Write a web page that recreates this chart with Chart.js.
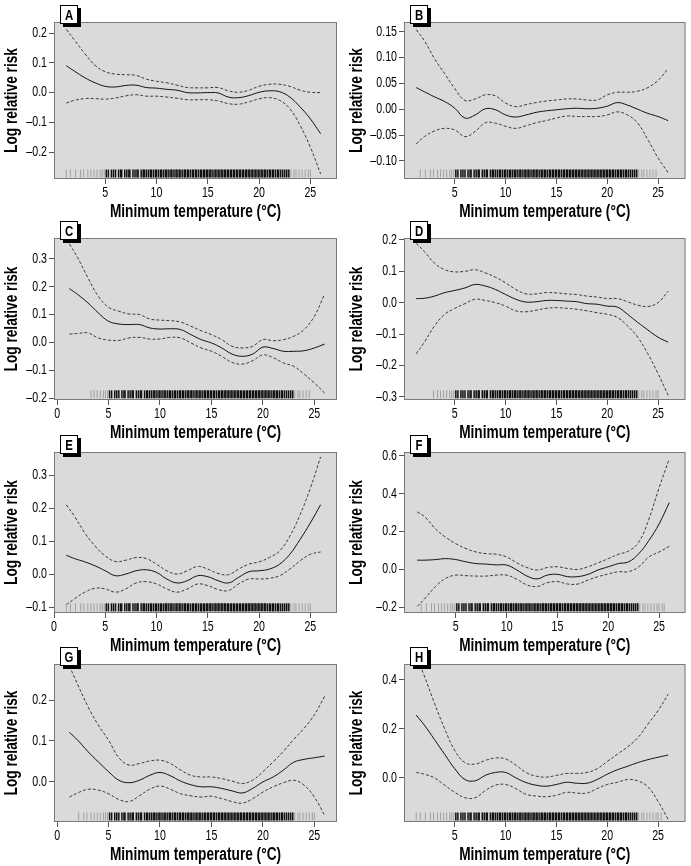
<!DOCTYPE html>
<html>
<head>
<meta charset="utf-8">
<script src="https://cdn.jsdelivr.net/npm/chart.js@4.4.0/dist/chart.umd.min.js"></script>
<style>
  html, body { margin: 0; padding: 0; background: #fff; }
  #wrap { position: relative; width: 691px; height: 866px; overflow: hidden; }
  canvas { position: absolute; }
</style>
</head>
<body>
<div id="wrap"></div>
<script>
// temperature grid (deg C) shared by all panels
const temps = [1.2, 2, 3, 4, 5, 6, 7, 8, 9, 10, 11, 12, 13, 14, 15, 16, 17, 18, 19, 20, 21, 22, 23, 24, 25, 26];

const aFit   = [0.09, 0.072, 0.05, 0.033, 0.021, 0.019, 0.024, 0.025, 0.017, 0.015, 0.011, 0.008, 0, -0.001, 0, -0.001, -0.015, -0.017, -0.01, 0.001, 0.006, 0.003, -0.015, -0.048, -0.088, -0.138];
const aUpper = [0.212, 0.176, 0.131, 0.092, 0.07, 0.062, 0.06, 0.058, 0.045, 0.038, 0.033, 0.025, 0.017, 0.016, 0.016, 0.017, 0.006, 0.001, 0.008, 0.021, 0.028, 0.028, 0.021, 0.008, 0.001, 0];
const aLower = [-0.035, -0.026, -0.02, -0.02, -0.022, -0.018, -0.011, -0.007, -0.012, -0.012, -0.015, -0.019, -0.024, -0.024, -0.024, -0.028, -0.037, -0.039, -0.031, -0.021, -0.017, -0.026, -0.054, -0.11, -0.183, -0.273];

const bFit   = [0.042, 0.034, 0.024, 0.015, 0.002, -0.017, -0.011, 0.001, -0.001, -0.011, -0.015, -0.011, -0.006, -0.003, -0.001, 0.001, 0.002, 0.001, 0.002, 0.006, 0.013, 0.008, 0, -0.008, -0.014, -0.022];
const bUpper = [0.154, 0.133, 0.098, 0.069, 0.04, 0.017, 0.02, 0.028, 0.026, 0.012, 0.005, 0.009, 0.013, 0.016, 0.018, 0.02, 0.02, 0.018, 0.018, 0.028, 0.033, 0.033, 0.035, 0.042, 0.056, 0.079];
const bLower = [-0.067, -0.053, -0.042, -0.037, -0.04, -0.053, -0.043, -0.026, -0.027, -0.033, -0.037, -0.032, -0.026, -0.022, -0.017, -0.013, -0.014, -0.014, -0.014, -0.011, -0.005, -0.011, -0.027, -0.059, -0.094, -0.123];

const cFit   = [0.193, 0.172, 0.142, 0.106, 0.076, 0.066, 0.064, 0.064, 0.052, 0.048, 0.049, 0.046, 0.028, 0.01, -0.002, -0.02, -0.042, -0.05, -0.042, -0.017, -0.022, -0.032, -0.032, -0.03, -0.02, -0.006];
const cUpper = [0.354, 0.304, 0.232, 0.166, 0.126, 0.112, 0.102, 0.1, 0.084, 0.08, 0.078, 0.073, 0.058, 0.042, 0.028, 0.01, -0.014, -0.02, -0.014, 0.01, 0.006, 0.01, 0.022, 0.046, 0.094, 0.174];
const cLower = [0.03, 0.032, 0.034, 0.016, 0.008, 0.007, 0.016, 0.018, 0.012, 0.012, 0.018, 0.016, -0.002, -0.02, -0.032, -0.05, -0.072, -0.078, -0.066, -0.045, -0.055, -0.074, -0.086, -0.114, -0.146, -0.182];

const dFit   = [0.013, 0.014, 0.021, 0.032, 0.039, 0.047, 0.058, 0.053, 0.042, 0.026, 0.011, 0.002, 0.003, 0.007, 0.007, 0.005, 0.003, -0.003, -0.005, -0.011, -0.014, -0.037, -0.063, -0.087, -0.11, -0.126];
const dUpper = [0.189, 0.163, 0.126, 0.105, 0.098, 0.1, 0.105, 0.095, 0.081, 0.063, 0.042, 0.028, 0.028, 0.032, 0.031, 0.028, 0.026, 0.021, 0.018, 0.013, 0.013, 0.003, -0.008, -0.012, 0, 0.037];
const dLower = [-0.163, -0.126, -0.074, -0.037, -0.018, -0.003, 0.011, 0.007, 0, -0.011, -0.026, -0.029, -0.024, -0.018, -0.016, -0.018, -0.021, -0.026, -0.032, -0.037, -0.047, -0.074, -0.11, -0.163, -0.226, -0.295];

const eFit   = [0.057, 0.047, 0.037, 0.025, 0.01, -0.005, 0, 0.01, 0.013, 0.005, -0.015, -0.027, -0.02, -0.005, -0.008, -0.02, -0.027, -0.01, 0.007, 0.01, 0.015, 0.03, 0.06, 0.105, 0.155, 0.21];
const eUpper = [0.21, 0.175, 0.125, 0.085, 0.055, 0.038, 0.042, 0.05, 0.047, 0.03, 0.01, 0, 0.01, 0.023, 0.015, 0.002, -0.002, 0.015, 0.03, 0.037, 0.05, 0.07, 0.115, 0.18, 0.26, 0.355];
const eLower = [-0.093, -0.075, -0.055, -0.043, -0.045, -0.055, -0.045, -0.027, -0.023, -0.03, -0.045, -0.055, -0.045, -0.03, -0.035, -0.047, -0.05, -0.03, -0.015, -0.015, -0.013, -0.005, 0.015, 0.04, 0.06, 0.067];

const fFit   = [0.049, 0.049, 0.052, 0.057, 0.052, 0.04, 0.031, 0.028, 0.024, 0.023, -0.003, -0.035, -0.05, -0.03, -0.026, -0.038, -0.038, -0.026, -0.003, 0.014, 0.031, 0.04, 0.083, 0.153, 0.24, 0.353];
const fUpper = [0.304, 0.275, 0.214, 0.17, 0.136, 0.11, 0.092, 0.083, 0.08, 0.066, 0.035, 0.01, -0.003, 0.01, 0.014, 0.005, 0, 0.014, 0.035, 0.057, 0.08, 0.097, 0.144, 0.266, 0.431, 0.584];
const fLower = [-0.195, -0.151, -0.09, -0.047, -0.03, -0.033, -0.035, -0.035, -0.03, -0.03, -0.052, -0.082, -0.09, -0.07, -0.064, -0.077, -0.077, -0.056, -0.038, -0.024, -0.012, -0.012, 0.014, 0.066, 0.092, 0.122];

const gFit   = [0.121, 0.102, 0.074, 0.049, 0.025, 0.004, -0.002, 0.004, 0.016, 0.023, 0.015, 0.002, -0.007, -0.012, -0.012, -0.016, -0.022, -0.027, -0.016, 0, 0.012, 0.029, 0.048, 0.055, 0.059, 0.063];
const gUpper = [0.283, 0.238, 0.184, 0.139, 0.102, 0.059, 0.041, 0.045, 0.051, 0.053, 0.045, 0.029, 0.016, 0.012, 0.012, 0.008, 0.002, -0.004, 0.004, 0.025, 0.049, 0.075, 0.104, 0.131, 0.164, 0.209];
const gLower = [-0.037, -0.027, -0.018, -0.02, -0.029, -0.043, -0.048, -0.034, -0.018, -0.01, -0.018, -0.029, -0.034, -0.037, -0.035, -0.041, -0.048, -0.052, -0.041, -0.025, -0.012, -0.002, 0.004, -0.008, -0.037, -0.082];

const hFit   = [0.256, 0.215, 0.156, 0.096, 0.037, -0.007, -0.012, 0.01, 0.022, 0.022, 0, -0.019, -0.03, -0.034, -0.027, -0.018, -0.022, -0.022, -0.007, 0.015, 0.033, 0.047, 0.062, 0.074, 0.084, 0.093];
const hUpper = [0.496, 0.415, 0.304, 0.2, 0.111, 0.062, 0.056, 0.071, 0.081, 0.077, 0.052, 0.022, 0.007, 0.003, 0.01, 0.018, 0.018, 0.022, 0.037, 0.067, 0.096, 0.126, 0.163, 0.219, 0.274, 0.341];
const hLower = [0.022, 0.015, 0, -0.03, -0.059, -0.081, -0.081, -0.052, -0.03, -0.027, -0.044, -0.067, -0.074, -0.077, -0.071, -0.059, -0.062, -0.062, -0.044, -0.027, -0.018, -0.007, -0.012, -0.037, -0.096, -0.17];

// rug of observed daily minimum temperatures
const rugSparse = [1.2, 1.6, 2.1, 2.6, 2.9, 3.3, 3.6, 3.9, 4.2, 4.5, 4.7, 4.9, 23.1, 23.4, 23.6, 23.9, 24.2, 24.5, 24.8, 25.0, 25.3, 25.5];
const rugDense = [5.1, 5.3, 5.6, 5.8, 6.0, 6.3, 6.5, 6.6, 6.9, 7.1, 7.3, 7.4, 7.7, 7.9, 8.1, 8.2, 8.5, 8.7, 8.8, 9.0, 9.2, 9.4, 9.5, 9.7, 9.9,
  10.0, 10.2, 10.4, 10.5, 10.7, 10.9, 11.0, 11.2, 11.4, 11.5, 11.7, 11.9, 12.0, 12.2, 12.3, 12.5, 12.7, 12.8, 13.0, 13.1, 13.3, 13.5, 13.6, 13.8, 13.9,
  14.1, 14.3, 14.4, 14.6, 14.7, 14.9, 15.0, 15.2, 15.3, 15.5, 15.7, 15.8, 16.0, 16.1, 16.3, 16.4, 16.6, 16.7, 16.9, 17.0, 17.2, 17.3, 17.5, 17.6, 17.8,
  17.9, 18.1, 18.2, 18.4, 18.5, 18.7, 18.8, 19.0, 19.1, 19.3, 19.4, 19.6, 19.7, 19.9, 20.0, 20.2, 20.3, 20.5, 20.6, 20.8, 21.0, 21.1, 21.3, 21.4, 21.6,
  21.8, 21.9, 22.1, 22.3, 22.5, 22.7, 22.9];
const rugStart = [1.2, 1.5, 3.3, 2.7, 1.2, 1.5, 1.7, 1.2];
const rugEnd   = [25.0, 24.8, 24.7, 25.0, 25.2, 25.5, 25.0, 25.3];

const panelLetters = ['A', 'B', 'C', 'D', 'E', 'F', 'G', 'H'];
const xTicksShort = [5, 10, 15, 20, 25];
const xTicksLong = [0, 5, 10, 15, 20, 25];
const xTickLists = [xTicksShort, xTicksShort, xTicksLong, xTicksShort, xTicksLong, xTicksShort, xTicksLong, xTicksShort];
const yTickLists = [
  [-0.2, -0.1, 0, 0.1, 0.2],
  [-0.10, -0.05, 0, 0.05, 0.10, 0.15],
  [-0.2, -0.1, 0, 0.1, 0.2, 0.3],
  [-0.3, -0.2, -0.1, 0, 0.1, 0.2],
  [-0.1, 0, 0.1, 0.2, 0.3],
  [-0.2, 0, 0.2, 0.4, 0.6],
  [0, 0.1, 0.2],
  [0, 0.2, 0.4]
];
const yDecimals = [1, 2, 1, 1, 1, 1, 1, 1];
const xTitle = 'Minimum temperature (°C)';
const yTitle = 'Log relative risk';
const xRanges = [[0, 27.6], [0, 27.7], [-0.3, 27.2], [0, 27.7], [0, 27.6], [-0.1, 27.6], [-0.3, 27.2], [0, 27.7]];
const yRanges = [[-0.29, 0.237], [-0.135, 0.169], [-0.207, 0.375], [-0.31, 0.206], [-0.118, 0.37], [-0.23, 0.62], [-0.098, 0.288], [-0.18, 0.464]];

const fits = [aFit, bFit, cFit, dFit, eFit, fFit, gFit, hFit];
const uppers = [aUpper, bUpper, cUpper, dUpper, eUpper, fUpper, gUpper, hUpper];
const lowers = [aLower, bLower, cLower, dLower, eLower, fLower, gLower, hLower];

const FONT = '"Liberation Sans", Arial, sans-serif';
const SQUEEZE = 0.76; // horizontal squeeze to mimic a condensed face
const rowTops = [22, 238, 452, 664];
const rowBottoms = [179, 400, 613, 822];

function pts(ys) {
  return temps.map((t, i) => ({ x: t, y: ys[i] }));
}

// condensed-looking text: real text, scaled horizontally
function squeezedText(ctx, text, x, y, size, bold, align, rotate) {
  ctx.save();
  ctx.translate(x, y);
  if (rotate) ctx.rotate(-Math.PI / 2);
  ctx.scale(SQUEEZE, 1);
  ctx.font = (bold ? 'bold ' : '') + size + 'px ' + FONT;
  ctx.textAlign = align;
  ctx.textBaseline = 'middle';
  ctx.fillStyle = '#000';
  ctx.fillText(text, 0, 0);
  ctx.restore();
}

const panelDecor = {
  id: 'panelDecor',
  beforeDraw(chart) {
    const { ctx, chartArea: a } = chart;
    ctx.save();
    ctx.fillStyle = '#dadada';
    ctx.fillRect(a.left, a.top, a.right - a.left, a.bottom - a.top);
    ctx.restore();
  },
  afterDraw(chart) {
    const { ctx, chartArea: a, scales } = chart;
    const o = chart.options.plugins.panelDecor;
    ctx.save();
    ctx.strokeStyle = '#7a7a7a';
    ctx.lineWidth = 1;
    ctx.strokeRect(a.left + 0.5, a.top + 0.5, a.right - a.left - 1, a.bottom - a.top - 1);
    ctx.restore();

    // tick labels
    scales.x.ticks.forEach(t => {
      squeezedText(ctx, String(t.value), scales.x.getPixelForValue(t.value), a.bottom + 14, 14, false, 'center');
    });
    scales.y.ticks.forEach(t => {
      const v = t.value;
      const label = (v < -1e-9 ? '\u2013' : '') + Math.abs(v).toFixed(o.dec);
      squeezedText(ctx, label, a.left - 7, scales.y.getPixelForValue(v), 14, false, 'right');
    });
    // axis titles
    squeezedText(ctx, xTitle, (a.left + a.right) / 2, a.bottom + 33, 18, true, 'center');
    squeezedText(ctx, yTitle, 12, (a.top + a.bottom) / 2, 18, true, 'center', true);

    // panel letter box
    const bx = a.left + 6, by = a.top - 17, w = 18, h = 19;
    ctx.save();
    ctx.fillStyle = '#000';
    ctx.fillRect(bx + 3, by + 3, w, h);
    ctx.fillStyle = '#fff';
    ctx.fillRect(bx, by, w, h);
    ctx.strokeStyle = '#000';
    ctx.lineWidth = 1;
    ctx.strokeRect(bx + 0.5, by + 0.5, w - 1, h - 1);
    ctx.restore();
    squeezedText(ctx, o.letter, bx + w / 2, by + h / 2 + 1, 15, true, 'center');
  }
};

const wrap = document.getElementById('wrap');

for (let p = 0; p < 8; p++) {
  const col = p % 2, row = Math.floor(p / 2);
  const left = col === 0 ? 0 : 345;
  const width = col === 0 ? 345 : 346;
  const yAxisW = col === 0 ? 54 : 59;
  const padRight = col === 0 ? 8 : 3;
  const top = rowTops[row] - 22;
  const height = (rowBottoms[row] - rowTops[row]) + 22 + 43;

  const canvas = document.createElement('canvas');
  canvas.width = width;
  canvas.height = height;
  canvas.style.left = left + 'px';
  canvas.style.top = top + 'px';
  wrap.appendChild(canvas);

  const [ymin, ymax] = yRanges[p];
  const rugY = ymin + (ymax - ymin) * 0.035;
  const inRange = t => t >= rugStart[p] && t <= rugEnd[p];

  new Chart(canvas.getContext('2d'), {
    type: 'scatter',
    data: {
      datasets: [
        { data: rugSparse.filter(inRange).map(t => ({ x: t, y: rugY })), pointStyle: 'line', rotation: 90, pointRadius: 4, pointBorderWidth: 1, pointBorderColor: '#a0a0a0', showLine: false },
        { data: rugDense.filter(inRange).map(t => ({ x: t, y: rugY })), pointStyle: 'line', rotation: 90, pointRadius: 4, pointBorderWidth: 1.5, pointBorderColor: '#111', showLine: false },
        { data: pts(uppers[p]), showLine: true, borderColor: '#3a3a3a', borderWidth: 1, borderDash: [3, 2], pointRadius: 0, tension: 0.4 },
        { data: pts(lowers[p]), showLine: true, borderColor: '#3a3a3a', borderWidth: 1, borderDash: [3, 2], pointRadius: 0, tension: 0.4 },
        { data: pts(fits[p]), showLine: true, borderColor: '#111', borderWidth: 1, pointRadius: 0, tension: 0.4 }
      ]
    },
    options: {
      responsive: false,
      animation: false,
      events: [],
      layout: { padding: { left: 0, top: 22, right: padRight, bottom: 0 } },
      plugins: {
        legend: { display: false },
        tooltip: { enabled: false },
        panelDecor: { letter: panelLetters[p], dec: yDecimals[p] }
      },
      scales: {
        x: {
          type: 'linear',
          min: xRanges[p][0],
          max: xRanges[p][1],
          afterBuildTicks: s => { s.ticks = xTickLists[p].map(v => ({ value: v })); },
          afterFit: s => { s.height = 43; },
          border: { display: false },
          grid: { drawOnChartArea: false, drawTicks: true, tickLength: 5, color: '#555' },
          ticks: { display: false }
        },
        y: {
          min: ymin,
          max: ymax,
          afterBuildTicks: s => { s.ticks = yTickLists[p].map(v => ({ value: v })); },
          afterFit: s => { s.width = yAxisW; },
          border: { display: false },
          grid: { drawOnChartArea: false, drawTicks: true, tickLength: 5, color: '#555' },
          ticks: { display: false }
        }
      }
    },
    plugins: [panelDecor]
  });
}
</script>
</body>
</html>
